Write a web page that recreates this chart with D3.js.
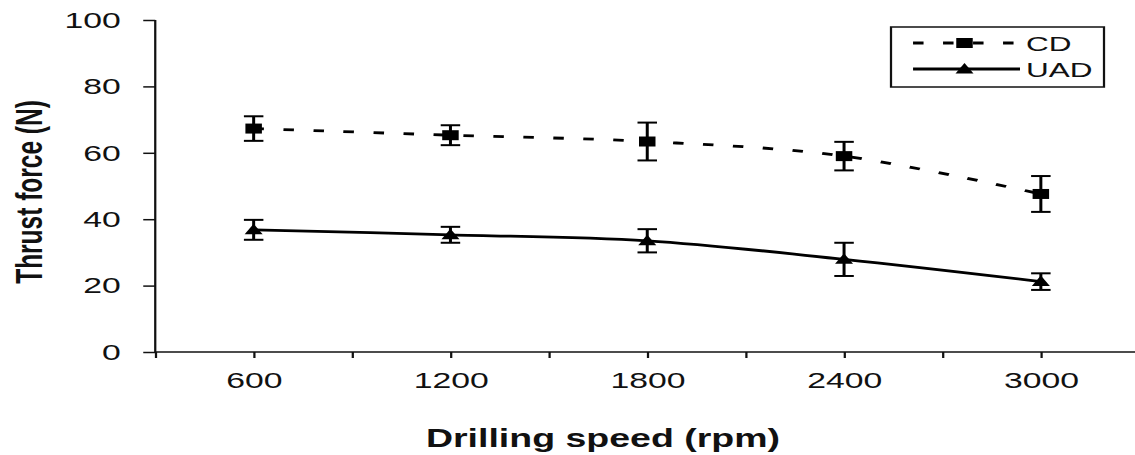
<!DOCTYPE html>
<html>
<head>
<meta charset="utf-8">
<script src="https://cdn.jsdelivr.net/npm/d3@7"></script>
<style>
    body { margin: 0; background: #fff; }
    text { font-family: "Liberation Sans", Arial, sans-serif; fill: #111; }
</style>
</head>
<body>
<svg class="chart" width="1135" height="455"></svg>
<script>
// data
const speeds = [600, 1200, 1800, 2400, 3000];
const cdForce = [67.3, 65.3, 63.4, 59.0, 47.6];
const cdError = [3.7, 3.0, 5.7, 4.3, 5.4];
const uadForce = [36.8, 35.3, 33.5, 27.9, 21.2];
const uadError = [3.0, 2.4, 3.5, 5.0, 2.5];
const xTicks = [300, 600, 900, 1200, 1500, 1800, 2100, 2400, 2700, 3000, 3300];
const xLabels = [600, 1200, 1800, 2400, 3000];
const yTicks = [0, 20, 40, 60, 80, 100];
const seriesNames = ['CD', 'UAD'];

// the picture is stretched sideways, so draw narrow and scale x
const stretch = 1.5;
const sizes = {width: 1135 / stretch, height: 455, left: 103.5, top: 20, bottom: 352};

const svg = d3.select('.chart');
svg.append('rect').attr('width', 1135).attr('height', 455).attr('fill', '#fff');
const g = svg.append('g').attr('transform', `scale(${stretch}, 1)`);

const xScale = d3.scaleLinear().domain([300, 3300]).range([sizes.left, sizes.left + 656]);
const yScale = d3.scaleLinear().domain([0, 100]).range([sizes.bottom, sizes.top]);

drawAxes();
drawSeries(cdForce, cdError, 'square', '7,13');
drawSeries(uadForce, uadError, 'triangle', null);
drawLegend();

function drawAxes() {
    const yAxis = d3.axisLeft(yScale).tickValues(yTicks).tickSize(8).tickPadding(15);
    g.append('g')
        .attr('transform', `translate(${sizes.left}, 0)`)
        .call(yAxis)
        .call(a => a.select('.domain').attr('d', `M0,${sizes.bottom}V${sizes.top}`))
        .call(a => a.selectAll('line, path').attr('stroke', '#111').attr('stroke-width', 1.5))
        .call(a => a.selectAll('text').attr('font-size', 22.5).attr('fill', '#222'));

    const xAxis = d3.axisBottom(xScale)
                    .tickValues(xTicks)
                    .tickSize(6)
                    .tickPadding(14)
                    .tickFormat(d => xLabels.includes(d) ? d : '');
    g.append('g')
        .attr('transform', `translate(0, ${sizes.bottom})`)
        .call(xAxis)
        .call(a => a.select('.domain').attr('d', `M${sizes.left},0H${sizes.width}`))
        .call(a => a.selectAll('line, path').attr('stroke', '#111').attr('stroke-width', 1.5))
        .call(a => a.selectAll('text').attr('font-size', 22.5).attr('fill', '#222'));

    g.append('text')
        .attr('x', 402)
        .attr('y', 447)
        .attr('text-anchor', 'middle')
        .attr('font-size', 25)
        .attr('font-weight', 'bold')
        .text('Drilling speed (rpm)');

    g.append('text')
        .attr('transform', 'translate(28, 192) rotate(-90)')
        .attr('text-anchor', 'middle')
        .attr('font-size', 24.5)
        .attr('font-weight', 'bold')
        .text('Thrust force (N)');
}

function markerPath(shape, x, y) {
    if (shape === 'square') return `M${x - 5.5},${y - 5}h11v10h-11Z`;
    return `M${x},${y - 6}L${x + 6},${y + 4.5}H${x - 6}Z`;
}

function drawSeries(values, errors, shape, dash) {
    const points = speeds.map((s, i) => ({speed: s, value: values[i], err: errors[i]}));

    const line = d3.line()
                    .x(d => xScale(d.speed))
                    .y(d => yScale(d.value))
                    .curve(d3.curveCardinal.tension(0));

    g.append('path')
        .datum(points)
        .attr('d', line)
        .attr('fill', 'none')
        .attr('stroke', '#000')
        .attr('stroke-width', 2.8)
        .attr('stroke-dasharray', dash);

    const bars = g.append('g').attr('stroke', '#000').attr('stroke-width', 2);
    bars.selectAll('.stem')
        .data(points)
        .enter()
        .append('line')
            .attr('x1', d => xScale(d.speed))
            .attr('x2', d => xScale(d.speed))
            .attr('y1', d => yScale(d.value + d.err))
            .attr('y2', d => yScale(d.value - d.err));
    bars.selectAll('.cap')
        .data(points.flatMap(d => [d.value + d.err, d.value - d.err].map(v => ({speed: d.speed, v}))))
        .enter()
        .append('line')
            .attr('x1', d => xScale(d.speed) - 6.5)
            .attr('x2', d => xScale(d.speed) + 6.5)
            .attr('y1', d => yScale(d.v))
            .attr('y2', d => yScale(d.v));

    g.selectAll(null)
        .data(points)
        .enter()
        .append('path')
            .attr('d', d => markerPath(shape, xScale(d.speed), yScale(d.value)))
            .attr('fill', '#000');
}

function drawLegend() {
    const box = g.append('g');
    box.append('rect')
        .attr('x', 594)
        .attr('y', 27)
        .attr('width', 142)
        .attr('height', 60)
        .attr('fill', '#fff')
        .attr('stroke', '#111')
        .attr('stroke-width', 1.5);

    const rows = [{name: seriesNames[0], shape: 'square', dash: '7,13', y: 43},
                  {name: seriesNames[1], shape: 'triangle', dash: null, y: 69}];
    rows.forEach(r => {
        box.append('line')
            .attr('x1', 608.7).attr('x2', 680)
            .attr('y1', r.y).attr('y2', r.y)
            .attr('stroke', '#000')
            .attr('stroke-width', 2.8)
            .attr('stroke-dasharray', r.dash);
        box.append('path')
            .attr('d', markerPath(r.shape, 643, r.y))
            .attr('fill', '#000');
        box.append('text')
            .attr('x', 684)
            .attr('y', r.y)
            .attr('dy', '0.36em')
            .attr('font-size', 21)
            .text(r.name);
    });
}
</script>
</body>
</html>
